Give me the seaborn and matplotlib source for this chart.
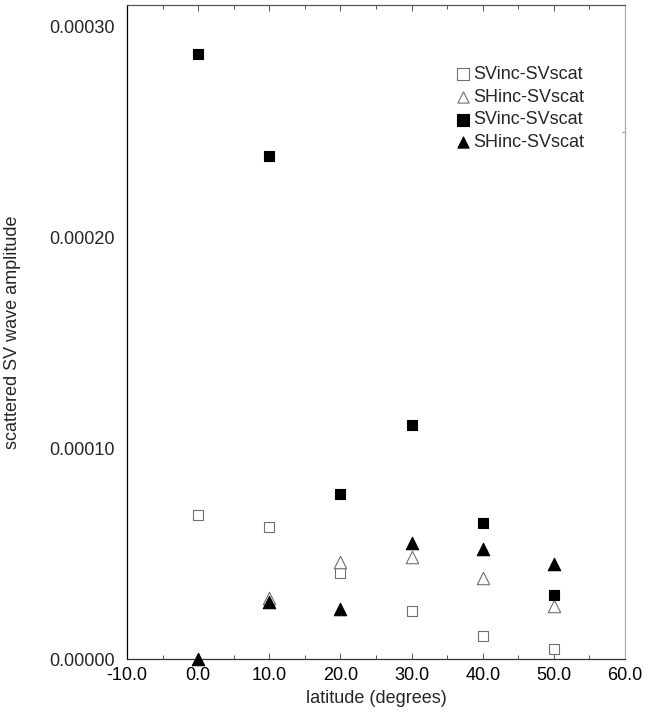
import matplotlib
matplotlib.use("Agg")
import matplotlib.pyplot as plt
import seaborn as sns
import pandas as pd
from matplotlib.ticker import MultipleLocator, FormatStrFormatter, FixedLocator

sns.set_theme(style="white")
plt.rcParams['font.family'] = ['Liberation Sans', 'DejaVu Sans']
plt.rcParams['axes.unicode_minus'] = False

latitude = [0, 10, 20, 30, 40, 50]
sv_sv_open = [6.82e-5, 6.24e-5, 4.09e-5, 2.29e-5, 1.10e-5, 4.6e-6]
sh_sv_open_lat = [10, 20, 30, 40, 50]
sh_sv_open = [2.91e-5, 4.58e-5, 4.85e-5, 3.85e-5, 2.53e-5]
sv_sv_filled = [2.869e-4, 2.385e-4, 7.82e-5, 1.109e-4, 6.43e-5, 3.02e-5]
sh_sv_filled = [0.0, 2.72e-5, 2.35e-5, 5.51e-5, 5.20e-5, 4.49e-5]

labels = ["SVinc-SVscat", "SHinc-SVscat", "SVinc-SVscat", "SHinc-SVscat"]

fig = plt.figure(figsize=(6.45, 7.13), dpi=100)
ax = fig.add_axes([127/645, 54/713, 498/645, 654/713])

series = [
    (latitude, sv_sv_open, 's', 'white', '#707070', labels[0]),
    (sh_sv_open_lat, sh_sv_open, '^', 'white', '#707070', labels[1]),
    (latitude, sv_sv_filled, 's', 'black', 'black', labels[2]),
    (latitude, sh_sv_filled, '^', 'black', 'black', labels[3]),
]
for i, (xs, ys, m, fc, ec, lab) in enumerate(series):
    df = pd.DataFrame({"lat": xs, "amp": ys})
    sns.scatterplot(data=df, x="lat", y="amp", ax=ax, marker=m, s=62 if m == 's' else 80,
                    color=fc, edgecolor=ec, linewidth=0.8, label=lab, clip_on=False,
                    zorder=3 + i)

ax.set_xlim(-10, 60)
ax.set_ylim(0, 0.00031)
ax.xaxis.set_major_locator(MultipleLocator(10))
ax.xaxis.set_minor_locator(MultipleLocator(5))
ax.xaxis.set_major_formatter(FormatStrFormatter('%.1f'))
ax.yaxis.set_major_locator(FixedLocator([0, 0.0001, 0.0002, 0.0003]))
ax.yaxis.set_major_formatter(FormatStrFormatter('%.5f'))

ax.tick_params(axis='x', which='both', direction='in', top=True, bottom=True,
               labelsize=13, pad=6, colors='#555555', labelcolor='black', width=0.7)
ax.tick_params(axis='x', which='major', length=4)
ax.tick_params(axis='x', which='minor', length=3)
ax.tick_params(axis='y', which='both', left=False, right=False, labelsize=13, pad=2.5)

# single right-side tick as in the reference
ax.plot([60, 59.6], [0.00025, 0.00025], color='#999999', lw=0.7, clip_on=False)

for side, col in [('left', 'black'), ('bottom', '#333333'), ('top', '#555555'), ('right', '#aaaaaa')]:
    ax.spines[side].set_visible(True)
    ax.spines[side].set_color(col)
    ax.spines[side].set_linewidth(0.9)

ax.set_xlabel("latitude (degrees)", fontsize=13, labelpad=4)
ax.set_ylabel("scattered SV wave amplitude", fontsize=13)
ax.yaxis.set_label_coords(-0.212, 0.5)

leg = ax.legend(loc='upper left', bbox_to_anchor=(0.643, 0.918), frameon=False,
                fontsize=13, handletextpad=0.05, handlelength=1.0, labelspacing=0.32,
                borderaxespad=0)
for h in leg.legend_handles:
    h.set_sizes([65])

fig.savefig("out.png", dpi=100)
